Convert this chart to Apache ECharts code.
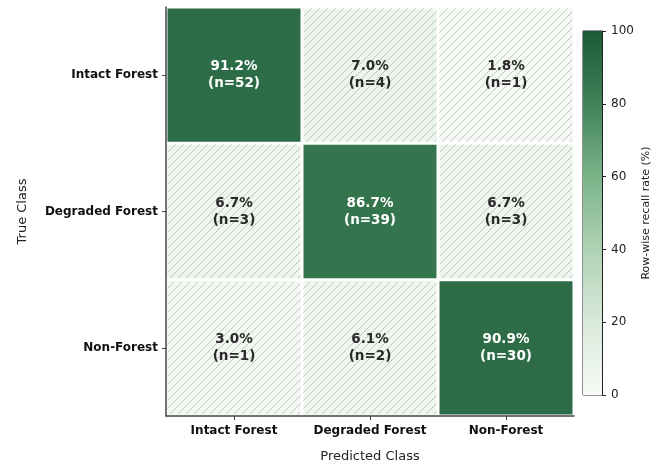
<!DOCTYPE html>
<html>
<head>
<meta charset="utf-8">
<script src="https://cdn.jsdelivr.net/npm/echarts@6/dist/echarts.min.js"></script>
<style>
  html, body { margin: 0; padding: 0; background: #fff; }
  #chart { width: 656px; height: 464px; }
</style>
</head>
<body>
<div id="chart"></div>
<script>
// Class labels (rows = true class, columns = predicted class)
const classes = ['Intact Forest', 'Degraded Forest', 'Non-Forest'];
// Row-wise recall (%) per cell
const recallRows = [
  [91.2, 7.0, 1.8],
  [6.7, 86.7, 6.7],
  [3.0, 6.1, 90.9]
];
// Sample counts per cell
const countRows = [
  [52, 4, 1],
  [3, 39, 3],
  [1, 2, 30]
];
// Colour bar ticks
const cbarTicks = [0, 20, 40, 60, 80, 100];

const FONT = '"DejaVu Sans", "Liberation Sans", sans-serif';
const greenStops = ['#f7fbf5', '#d8e9da', '#afd2b4', '#7bb489', '#408258', '#1d5a37'];

// heatmap cells: [predicted index, true index, recall, count]
const cells = [];
recallRows.forEach((row, r) => {
  row.forEach((v, c) => cells.push([c, r, v, countRows[r][c]]));
});

// diagonal hatch tile for the off-diagonal cells
function makeHatch() {
  const s = 8;
  const cv = document.createElement('canvas');
  cv.width = s; cv.height = s;
  const g = cv.getContext('2d');
  g.strokeStyle = 'rgba(150,150,150,0.5)';
  g.lineWidth = 1;
  g.beginPath();
  g.moveTo(0, s); g.lineTo(s, 0);
  g.moveTo(-s / 2, s / 2); g.lineTo(s / 2, -s / 2);
  g.moveTo(s / 2, s * 1.5); g.lineTo(s * 1.5, s / 2);
  g.stroke();
  return cv;
}
const hatch = makeHatch();

const chart = echarts.init(document.getElementById('chart'), null, { renderer: 'canvas' });

const option = {
  animation: false,
  backgroundColor: '#fff',
  grid: [
    { left: 166, top: 7, width: 408, height: 409, containLabel: false, outerBoundsMode: 'none' },
    { left: 583, top: 31, width: 19, height: 364, show: true, borderColor: '#222', borderWidth: 1, backgroundColor: 'transparent', containLabel: false, outerBoundsMode: 'none' }
  ],
  visualMap: {
    show: false,
    type: 'continuous',
    seriesIndex: 0,
    dimension: 2,
    min: 0,
    max: 100,
    inRange: { color: greenStops }
  },
  xAxis: [
    {
      type: 'category',
      data: classes,
      gridIndex: 0,
      position: 'bottom',
      name: 'Predicted Class',
      nameLocation: 'middle',
      nameGap: 34,
      nameTextStyle: { fontFamily: FONT, fontSize: 13, color: '#222' },
      axisLine: { show: true, lineStyle: { color: '#444', width: 1.5 } },
      axisTick: { show: true, alignWithLabel: true, length: 4, lineStyle: { color: '#444' } },
      axisLabel: { interval: 0, fontFamily: FONT, fontSize: 12, fontWeight: 'bold', color: '#111', margin: 9 },
      splitLine: { show: false }
    },
    {
      type: 'category',
      data: ['bar'],
      gridIndex: 1,
      show: false
    }
  ],
  yAxis: [
    {
      type: 'category',
      data: classes,
      inverse: true,
      gridIndex: 0,
      name: 'True Class',
      nameLocation: 'middle',
      nameGap: 137,
      nameRotate: 90,
      nameTextStyle: { fontFamily: FONT, fontSize: 13, color: '#222' },
      axisLine: { show: true, lineStyle: { color: '#444', width: 1.5 } },
      axisTick: { show: true, alignWithLabel: true, length: 4, lineStyle: { color: '#444' } },
      axisLabel: { interval: 0, fontFamily: FONT, fontSize: 12, fontWeight: 'bold', color: '#111', margin: 8 },
      splitLine: { show: false }
    },
    {
      type: 'value',
      gridIndex: 1,
      min: cbarTicks[0],
      max: cbarTicks[cbarTicks.length - 1],
      interval: 20,
      position: 'right',
      name: 'Row-wise recall rate (%)',
      nameLocation: 'middle',
      nameGap: 39,
      nameRotate: 90,
      nameTextStyle: { fontFamily: FONT, fontSize: 11, color: '#222' },
      axisLine: { show: true, lineStyle: { color: '#222', width: 1 } },
      axisTick: { show: true, length: 4, lineStyle: { color: '#222' } },
      axisLabel: { fontFamily: FONT, fontSize: 12, color: '#222', margin: 9 },
      splitLine: { show: false }
    }
  ],
  series: [
    {
      type: 'custom',
      xAxisIndex: 0,
      yAxisIndex: 0,
      data: cells,
      encode: { x: 0, y: 1 },
      renderItem: function (params, api) {
        const c = api.value(0), r = api.value(1);
        const v = api.value(2), n = api.value(3);
        const ctr = api.coord([c, r]);
        const size = api.size([1, 1]);
        const inset = 1.5;
        const shape = {
          x: ctr[0] - size[0] / 2 + inset,
          y: ctr[1] - size[1] / 2 + inset,
          width: size[0] - inset * 2,
          height: size[1] - inset * 2
        };
        const children = [
          { type: 'rect', shape: shape, style: { fill: api.visual('color') } }
        ];
        if (c !== r) {
          children.push({ type: 'rect', shape: shape, style: { fill: { image: hatch, repeat: 'repeat' } } });
        }
        children.push({
          type: 'text',
          style: {
            text: v.toFixed(1) + '%\n(n=' + n + ')',
            x: ctr[0],
            y: ctr[1],
            align: 'center',
            verticalAlign: 'middle',
            fontFamily: FONT,
            fontSize: 13.5,
            fontWeight: 'bold',
            lineHeight: 17,
            fill: v > 50 ? '#ffffff' : '#2a2a2a'
          }
        });
        return { type: 'group', children: children };
      }
    },
    {
      type: 'bar',
      xAxisIndex: 1,
      yAxisIndex: 1,
      data: [cbarTicks[cbarTicks.length - 1]],
      barWidth: '100%',
      silent: true,
      itemStyle: {
        color: new echarts.graphic.LinearGradient(0, 1, 0, 0,
          greenStops.map((col, i) => ({ offset: i / (greenStops.length - 1), color: col })))
      }
    }
  ]
};

chart.setOption(option);
</script>
</body>
</html>
